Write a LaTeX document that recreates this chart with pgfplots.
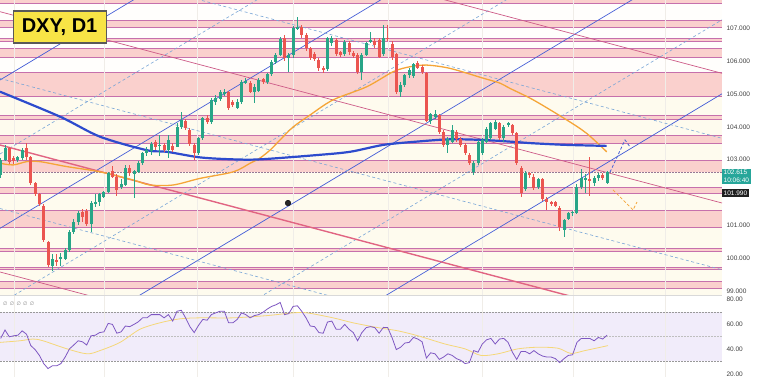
\documentclass[border=0pt]{standalone}
\usepackage{pgfplots}
\pgfplotsset{compat=1.18}
\usepackage{pgfplotstable}
\usepackage{fontspec}
\setmainfont{Liberation Sans}
\newfontfamily\dejavu{DejaVu Sans}

\definecolor{bgc}{RGB}{254,251,238}
\definecolor{bgw}{RGB}{255,254,252}
\definecolor{bandc}{RGB}{250,208,205}
\definecolor{bandl}{RGB}{198,112,172}
\definecolor{vgrid}{RGB}{240,237,232}
\definecolor{chan}{RGB}{70,95,215}
\definecolor{dblue}{RGB}{120,165,215}
\definecolor{redl}{RGB}{205,90,135}
\definecolor{redt}{RGB}{225,100,130}
\definecolor{mablue}{RGB}{45,75,205}
\definecolor{maor}{RGB}{245,165,55}
\definecolor{upc}{RGB}{40,165,135}
\definecolor{dnc}{RGB}{235,85,80}
\definecolor{rsic}{RGB}{126,87,194}
\definecolor{rsima}{RGB}{245,215,120}
\definecolor{rsiband}{RGB}{241,236,250}
\definecolor{tagc}{RGB}{38,166,154}
\definecolor{dxyy}{RGB}{248,228,70}
\definecolor{pricel}{RGB}{150,120,150}

\pgfplotstableread{
i o h l c
0 102.53 103.05 102.45 102.99
1 102.99 103.45 102.95 103.35
4 102.98 103.12 102.94 103.08
5 103.05 103.35 103.00 103.30
12 99.77 100.12 99.60 99.98
14 99.97 100.15 99.75 100.03
15 99.98 100.30 99.95 100.25
16 100.25 100.85 100.20 100.80
17 100.80 101.20 100.75 101.09
18 101.09 101.45 101.00 101.37
21 101.03 101.75 100.80 101.67
22 101.67 101.95 101.55 101.72
23 101.72 102.00 101.60 101.95
24 101.87 102.05 101.82 102.01
25 102.01 102.63 101.98 102.58
28 102.18 102.40 102.10 102.26
29 102.23 102.85 102.20 102.74
31 102.55 102.70 101.82 102.65
32 102.63 102.95 102.60 102.89
33 102.89 103.25 102.85 103.19
34 103.19 103.40 103.12 103.30
35 103.28 103.55 103.15 103.47
37 103.43 103.75 103.10 103.45
39 103.29 103.75 103.04 103.60
41 103.40 104.11 103.38 104.00
42 104.00 104.46 103.95 104.21
46 103.19 103.70 103.15 103.65
47 103.65 104.30 103.60 104.26
49 104.14 104.88 104.10 104.82
50 104.75 104.97 104.66 104.87
51 104.85 105.12 104.80 105.05
52 105.02 105.15 104.95 105.07
55 104.57 104.85 104.55 104.75
56 104.75 105.42 104.70 105.37
57 105.35 105.48 105.30 105.40
59 105.07 105.30 104.72 105.22
60 105.09 105.48 105.05 105.43
62 105.36 105.65 105.32 105.60
63 105.60 106.02 105.55 105.98
64 105.97 106.25 105.92 106.19
65 106.19 106.75 106.15 106.67
67 106.09 106.24 105.68 106.19
68 106.19 107.08 106.10 107.02
69 107.00 107.35 106.95 107.05
76 105.75 106.75 105.70 106.70
77 106.54 106.76 106.45 106.70
80 106.21 106.65 106.17 106.59
84 105.68 106.24 105.43 106.19
85 106.19 106.58 106.15 106.54
86 106.59 106.90 106.55 106.64
89 106.21 107.10 106.15 106.70
93 105.05 105.35 104.92 105.27
94 105.27 105.62 105.22 105.58
95 105.58 105.80 105.50 105.73
96 105.56 105.95 105.50 105.90
100 104.18 104.42 104.10 104.38
101 104.31 104.51 104.25 104.38
104 103.45 103.68 103.19 103.63
105 103.55 104.06 103.50 103.90
110 102.63 102.95 102.53 102.89
111 102.89 103.60 102.84 103.55
112 103.19 103.65 103.15 103.60
113 103.55 104.00 103.50 103.95
114 103.65 104.16 103.60 104.11
115 103.95 104.22 103.90 104.16
117 103.65 104.05 103.55 104.00
118 104.06 104.16 104.00 104.11
122 102.10 102.65 102.05 102.60
125 102.18 102.45 102.10 102.40
131 100.86 101.20 100.64 101.16
132 101.19 101.42 101.15 101.39
133 101.37 101.45 101.30 101.42
134 101.39 102.25 101.35 102.18
135 102.18 102.71 102.10 102.43
136 102.40 102.58 102.00 102.43
138 102.28 102.50 102.20 102.43
139 102.43 102.60 102.35 102.53
141 102.28 102.65 102.25 102.615
}\up

\pgfplotstableread{
i o h l c
2 103.35 103.40 102.88 102.94
3 103.05 103.12 102.88 102.95
6 103.35 103.50 102.99 103.09
7 103.09 103.12 102.22 102.28
8 102.28 102.32 101.90 101.95
9 101.95 102.00 101.60 101.64
10 101.60 101.65 100.50 100.55
11 100.50 100.52 99.72 99.79
13 99.95 100.12 99.75 99.88
19 101.40 101.50 101.10 101.26
20 101.44 101.50 100.98 101.03
26 102.65 102.80 102.45 102.48
27 102.48 102.55 101.90 102.08
30 102.74 102.85 102.50 102.60
36 103.53 103.60 103.30 103.40
38 103.45 103.50 103.25 103.29
40 103.43 103.50 103.25 103.29
43 104.18 104.25 103.90 103.95
44 103.90 103.95 103.42 103.47
45 103.45 103.50 102.99 103.19
48 104.26 104.35 104.10 104.14
53 105.05 105.10 104.51 104.56
54 104.75 104.82 104.60 104.66
58 105.33 105.40 105.02 105.07
61 105.46 105.50 105.30 105.36
66 106.70 106.80 106.02 106.09
70 107.05 107.10 106.72 106.80
71 106.80 106.85 106.30 106.39
72 106.39 106.42 106.05 106.09
73 106.21 106.27 106.00 106.07
74 106.04 106.10 105.70 105.80
75 105.80 105.85 105.63 105.75
78 106.64 106.70 106.15 106.21
79 106.27 106.32 106.12 106.19
81 106.54 106.60 106.20 106.27
82 106.24 106.30 106.10 106.17
83 106.19 106.25 105.60 105.66
87 106.60 106.70 106.40 106.50
88 106.64 106.70 106.10 106.14
90 106.70 107.10 106.60 106.68
91 106.51 106.60 106.05 106.14
92 106.21 106.25 105.00 105.05
97 105.93 106.00 105.75 105.80
98 105.83 105.88 105.60 105.66
99 105.63 105.67 104.15 104.18
102 104.36 104.40 103.78 103.83
103 103.85 103.90 103.40 103.45
106 103.85 103.90 103.55 103.62
107 103.62 103.68 103.40 103.45
108 103.45 103.50 103.14 103.19
109 103.14 103.20 102.84 102.89
116 104.11 104.16 103.60 103.65
119 104.06 104.10 103.75 103.80
120 103.80 103.85 102.84 102.89
121 102.75 102.80 101.85 101.98
123 102.60 102.62 102.45 102.53
124 102.48 102.55 102.08 102.13
126 102.40 102.45 101.75 101.79
127 101.79 101.85 101.47 101.72
128 101.72 101.75 101.60 101.67
129 101.72 101.75 101.55 101.59
130 101.54 101.58 100.84 100.96
137 102.40 103.09 101.90 102.38
140 102.53 102.58 102.38 102.43
}\dn

\pgfplotstableread{
i r
0 48.6
1 55.4
2 49.9
3 50.7
4 51.2
5 54.7
6 52.0
7 42.8
8 39.6
9 34.9
10 28.3
11 24.3
12 26.5
13 26.5
14 28.3
15 33.6
16 40.2
17 43.3
18 46.7
19 45.9
20 43.3
21 50.7
22 51.2
23 53.3
24 53.9
25 60.7
26 59.9
27 52.8
28 53.9
29 58.6
30 58.1
31 59.9
32 62.0
33 65.2
34 65.2
35 67.8
36 67.8
37 67.8
38 65.2
39 67.8
40 62.6
41 70.5
42 71.3
43 65.2
44 58.1
45 53.3
46 59.1
47 63.9
48 63.3
49 67.8
50 69.2
51 70.5
52 70.5
53 61.2
54 61.2
55 63.9
56 69.2
57 67.8
58 65.2
59 67.0
60 67.8
61 69.7
62 72.3
63 74.4
64 75.7
65 77.6
66 67.8
67 68.6
68 74.4
69 74.9
70 70.5
71 65.2
72 58.6
73 58.1
74 53.3
75 52.8
76 61.8
77 62.6
78 56.0
79 56.0
80 59.9
81 56.0
82 53.3
83 46.7
84 53.3
85 57.3
86 58.1
87 57.3
88 52.8
89 57.5
90 57.3
91 49.4
92 39.6
93 41.5
94 44.9
95 45.4
96 49.4
97 48.1
98 45.9
99 32.8
100 37.0
101 36.2
102 31.7
103 33.6
104 36.2
105 34.9
106 32.3
107 30.9
108 28.3
109 29.1
110 38.8
111 37.5
112 44.1
113 47.5
114 48.6
115 44.1
116 48.1
117 48.6
118 45.4
119 37.5
120 31.7
121 38.1
122 38.1
123 36.2
124 38.8
125 36.2
126 34.4
127 33.6
128 33.6
129 32.3
130 29.1
131 32.3
132 34.9
133 35.4
134 45.4
135 48.6
136 48.6
137 48.6
138 46.7
139 49.4
140 48.1
141 51.2
}\rsi

\pgfplotsset{
  wick/.style={forget plot, draw=none, mark=none, error bars/.cd, y dir=both, y explicit, error mark=none, error bar style={draw=#1, line width=0.9pt}},
  body/.style={forget plot, draw=none, mark=none, error bars/.cd, y dir=both, y explicit, error mark=none, error bar style={draw=#1, line width=3pt}},
  bandf/.style={forget plot, fill=bandc, draw=none},
  bandb/.style={forget plot, draw=bandl, line width=0.65pt},
  chl/.style={forget plot, draw=chan, line width=0.7pt},
  mid/.style={forget plot, draw=dblue, line width=0.6pt, dash pattern=on 3pt off 2.5pt},
  rl/.style={forget plot, draw=redl, line width=0.7pt},
}

\begin{document}
\begin{tikzpicture}
\fill[white] (0,0) rectangle (758pt,377pt);
\path[use as bounding box] (0,0) rectangle (758pt,377pt);

\begin{axis}[
  at={(0pt,82pt)}, anchor=south west,
  scale only axis, width=722pt, height=295pt,
  xmin=0, xmax=722, ymin=98.88, ymax=107.862,
  axis background/.style={fill=bgw},
  axis line style={draw=none}, major tick length=0pt,
  xtick=\empty, ytick={99,100,101,103,104,105,106,107},
  yticklabel pos=right,
  yticklabel style={/pgf/number format/fixed, /pgf/number format/fixed zerofill,
    /pgf/number format/precision=3, /pgf/number format/assume math mode=true,
    font=\fontsize{6.5}{7}\selectfont, text=black!75, xshift=1pt},
]
% cream zone
\addplot[forget plot, fill=bgc, draw=none] coordinates {(0,98.8) (722,98.8) (722,105.67) (0,105.67)} -- cycle;
% bands
\addplot[bandf] coordinates {(0,107.76) (722,107.76) (722,108) (0,108)} -- cycle;
\addplot[bandf] coordinates {(0,107.02) (722,107.02) (722,107.245) (0,107.245)} -- cycle;
\addplot[bandf] coordinates {(0,106.60) (722,106.60) (722,106.71) (0,106.71)} -- cycle;
\addplot[bandf] coordinates {(0,106.11) (722,106.11) (722,106.40) (0,106.40)} -- cycle;
\addplot[bandf] coordinates {(0,104.94) (722,104.94) (722,105.67) (0,105.67)} -- cycle;
\addplot[bandf] coordinates {(0,104.24) (722,104.24) (722,104.35) (0,104.35)} -- cycle;
\addplot[bandf] coordinates {(0,103.49) (722,103.49) (722,103.74) (0,103.74)} -- cycle;
\addplot[bandf] coordinates {(0,102.615) (722,102.615) (722,102.99) (0,102.99)} -- cycle;
\addplot[bandf] coordinates {(0,101.99) (722,101.99) (722,102.17) (0,102.17)} -- cycle;
\addplot[bandf] coordinates {(0,100.94) (722,100.94) (722,101.46) (0,101.46)} -- cycle;
\addplot[bandf] coordinates {(0,100.21) (722,100.21) (722,100.29) (0,100.29)} -- cycle;
\addplot[bandf] coordinates {(0,99.65) (722,99.65) (722,99.73) (0,99.73)} -- cycle;
\addplot[bandf] coordinates {(0,99.09) (722,99.09) (722,99.29) (0,99.29)} -- cycle;
% band borders
\addplot[bandb] coordinates {(0,107.76) (722,107.76)};
\addplot[bandb] coordinates {(0,107.02) (722,107.02)};
\addplot[bandb] coordinates {(0,107.245) (722,107.245)};
\addplot[bandb] coordinates {(0,106.60) (722,106.60)};
\addplot[bandb] coordinates {(0,106.71) (722,106.71)};
\addplot[bandb] coordinates {(0,106.11) (722,106.11)};
\addplot[bandb] coordinates {(0,106.40) (722,106.40)};
\addplot[bandb] coordinates {(0,104.94) (722,104.94)};
\addplot[bandb] coordinates {(0,105.67) (722,105.67)};
\addplot[bandb] coordinates {(0,104.24) (722,104.24)};
\addplot[bandb] coordinates {(0,104.35) (722,104.35)};
\addplot[bandb] coordinates {(0,103.49) (722,103.49)};
\addplot[bandb] coordinates {(0,103.74) (722,103.74)};
\addplot[bandb] coordinates {(0,102.99) (722,102.99)};
\addplot[bandb] coordinates {(0,101.99) (722,101.99)};
\addplot[bandb] coordinates {(0,102.17) (722,102.17)};
\addplot[bandb] coordinates {(0,100.94) (722,100.94)};
\addplot[bandb] coordinates {(0,101.46) (722,101.46)};
\addplot[bandb] coordinates {(0,100.21) (722,100.21)};
\addplot[bandb] coordinates {(0,100.29) (722,100.29)};
\addplot[bandb] coordinates {(0,99.65) (722,99.65)};
\addplot[bandb] coordinates {(0,99.73) (722,99.73)};
\addplot[bandb] coordinates {(0,99.09) (722,99.09)};
\addplot[bandb] coordinates {(0,99.29) (722,99.29)};
% vertical month grid
\pgfplotsinvokeforeach{14,104,197,293,388,482,573,665}{
  \addplot[forget plot, draw=vgrid, line width=0.4pt] coordinates {(#1,98.88) (#1,107.862)};
}
% current price line
\addplot[forget plot, draw=pricel, line width=0.5pt, dash pattern=on 1.5pt off 1.5pt] coordinates {(0,102.615) (722,102.615)};
% rising channel (blue)
\addplot[chl] coordinates {(0,105.426) (722,118.62)};
\addplot[chl] coordinates {(0,100.910) (722,114.10)};
\addplot[chl] coordinates {(0,96.321) (722,109.51)};
\addplot[chl] coordinates {(0,91.815) (722,105.006)};
\addplot[mid] coordinates {(0,103.173) (722,116.36)};
\addplot[mid] coordinates {(0,98.614) (722,111.81)};
\addplot[mid] coordinates {(0,94.068) (722,107.26)};
% falling channel (red)
\addplot[rl] coordinates {(0,111.455) (722,105.630)};
\addplot[rl] coordinates {(0,107.506) (722,101.681)};
\addplot[forget plot, draw=redt, line width=1.4pt] coordinates {(0,103.447) (722,97.622)};
\addplot[rl] coordinates {(0,99.580) (722,93.755)};
\addplot[mid] coordinates {(0,109.476) (722,103.651)};
\addplot[mid] coordinates {(0,105.475) (722,99.650)};
\addplot[mid] coordinates {(0,101.513) (722,95.688)};
% moving averages
\addplot[forget plot, draw=maor, line width=1.3pt, smooth] coordinates {
(0,102.89) (13.3,102.84) (26.7,102.94) (40,102.94) (66.7,102.79) (100,102.63)
(133.3,102.38) (150,102.23) (173.3,102.23) (200,102.43) (233.3,102.63) (250,102.89)
(260,103.05) (270,103.29) (280,103.60) (293.3,104.00) (310,104.36) (333,104.82)
(366.7,105.22) (393.3,105.68) (410,105.83) (426.7,105.88) (450,105.78) (483.3,105.48)
(500,105.33) (510,105.17) (533.3,104.82) (566.7,104.21) (586.7,103.80) (606.7,103.24)};
\addplot[forget plot, draw=mablue, line width=2.2pt, smooth] coordinates {
(0,105.07) (60,104.31) (100,103.70) (146.7,103.29) (166.7,103.24) (200,103.07)
(233,103.01) (260,103.01) (316.7,103.14) (350,103.24) (383.3,103.45) (416.7,103.55)
(450,103.62) (483.3,103.60) (510,103.55) (533,103.50) (566.7,103.45) (606.7,103.42)};
% candles
\addplot[wick=upc] table[x expr=0.7+4.3*\thisrow{i}, y expr=(\thisrow{h}+\thisrow{l})/2, y error expr=(\thisrow{h}-\thisrow{l})/2]{\up};
\addplot[wick=dnc] table[x expr=0.7+4.3*\thisrow{i}, y expr=(\thisrow{h}+\thisrow{l})/2, y error expr=(\thisrow{h}-\thisrow{l})/2]{\dn};
\addplot[body=upc] table[x expr=0.7+4.3*\thisrow{i}, y expr=(\thisrow{o}+\thisrow{c})/2, y error expr={max(abs(\thisrow{c}-\thisrow{o})/2,0.012)}]{\up};
\addplot[body=dnc] table[x expr=0.7+4.3*\thisrow{i}, y expr=(\thisrow{o}+\thisrow{c})/2, y error expr={max(abs(\thisrow{c}-\thisrow{o})/2,0.012)}]{\dn};
% projection sketches
\addplot[forget plot, draw=chan, line width=0.8pt, dash pattern=on 3pt off 2pt] coordinates {(610,102.62) (625,103.60) (630,103.39)};
\addplot[forget plot, draw=maor, line width=0.8pt, dash pattern=on 3pt off 2pt] coordinates {(613,102.08) (633,101.47) (637,101.71)};
% alarm icon
\addplot[forget plot, only marks, mark=*, mark size=2.8pt, mark options={fill=black!85, draw=black}] coordinates {(288,101.68)};
\end{axis}

\draw[black!15, line width=0.6pt] (0,81.6pt) -- (722pt,81.6pt);

\begin{axis}[
  at={(0pt,0pt)}, anchor=south west,
  scale only axis, width=722pt, height=81pt,
  xmin=0, xmax=722, ymin=17.5, ymax=82.8,
  axis line style={draw=none}, major tick length=0pt,
  xtick=\empty, ytick={20,40,60,80},
  yticklabel pos=right,
  yticklabel style={/pgf/number format/fixed, /pgf/number format/fixed zerofill,
    /pgf/number format/precision=2, /pgf/number format/assume math mode=true,
    font=\fontsize{6.5}{7}\selectfont, text=black!75, xshift=1pt},
]
\addplot[forget plot, fill=rsiband, draw=none] coordinates {(0,30) (722,30) (722,70) (0,70)} -- cycle;
\pgfplotsinvokeforeach{14,104,197,293,388,482,573,665}{
  \addplot[forget plot, draw=vgrid, line width=0.4pt] coordinates {(#1,17.5) (#1,82.8)};
}
\addplot[forget plot, draw=black!40, line width=0.6pt, dash pattern=on 1.5pt off 1.5pt] coordinates {(0,70) (722,70)};
\addplot[forget plot, draw=black!25, line width=0.5pt, dash pattern=on 1.5pt off 1.5pt] coordinates {(0,50) (722,50)};
\addplot[forget plot, draw=black!40, line width=0.6pt, dash pattern=on 1.5pt off 1.5pt] coordinates {(0,30) (722,30)};
\addplot[forget plot, draw=rsima, line width=0.8pt, smooth] coordinates {
(0,45.4) (20,46.7) (33,48.1) (43,46.7) (67,40.2) (87,36.2) (100,38.8) (120,45.4)
(140,56.0) (160,61.2) (180,64.4) (200,65.2) (233,65.2) (267,67.0) (293,69.2) (307,69.2)
(333,65.2) (353,61.2) (378,57.3) (398,54.7) (418,50.7) (445,44.1) (465,40.2) (481,34.9)
(498,36.2) (518,40.2) (538,41.5) (558,40.7) (571,36.5) (585,38.8) (608,42.8)};
\addplot[forget plot, draw=rsic, line width=0.8pt] table[x expr=0.7+4.3*\thisrow{i}, y=r]{\rsi};
\end{axis}

% labels and tags
\node[anchor=north west, fill=dxyy, draw=black!65, line width=1.2pt, inner sep=0pt,
  minimum width=93pt, minimum height=32pt, font=\bfseries\fontsize{20}{22}\selectfont]
  at (12.5pt,366.5pt) {DXY, D1};
\node[anchor=west, fill=tagc, text=white, inner sep=1.5pt, align=left,
  font=\fontsize{6.5}{7.5}\selectfont] at (722pt,200.5pt) {102.615\\10:06:40};
\node[anchor=west, fill=black!88, text=white, inner sep=1.5pt,
  font=\fontsize{6.5}{7.5}\selectfont] at (722pt,184.2pt) {101.990};
\node[anchor=west, text=black!50, inner sep=0pt, font=\dejavu\fontsize{5}{5}\selectfont]
  at (3pt,73.5pt) {∅\hspace{2.3pt}∅\hspace{2.3pt}∅\hspace{2.3pt}∅\hspace{2.3pt}∅};
\end{tikzpicture}
\end{document}
